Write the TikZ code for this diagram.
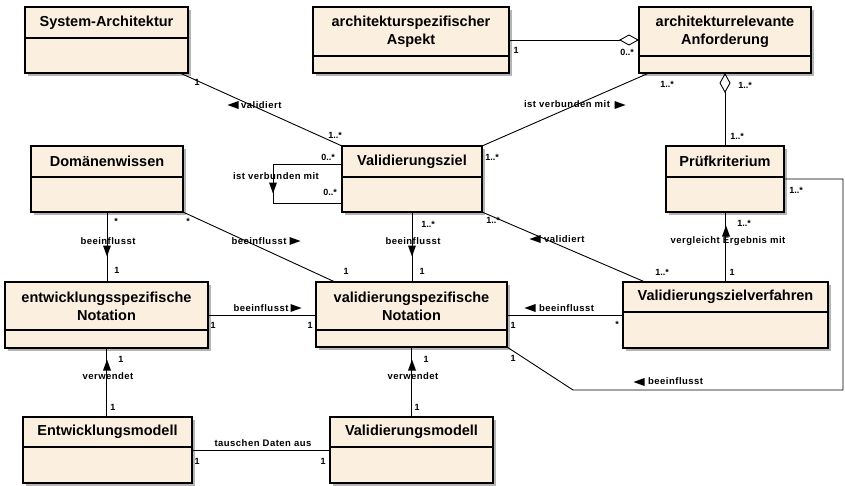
\documentclass[tikz,border=0pt]{standalone}
\usepackage{fontspec}
\setmainfont{Liberation Sans}
\usetikzlibrary{arrows.meta,shadows,calc,fit}

\definecolor{clsfill}{RGB}{251,240,224}
\definecolor{clsshadow}{RGB}{180,180,180}

\tikzset{
  cls/.style={draw=black, line width=1.2pt, fill=clsfill, inner sep=0pt, outer sep=0pt,
    drop shadow={shadow xshift=3pt, shadow yshift=-3pt, fill=clsshadow, opacity=1}},
  ctitle/.style={font=\fontsize{14.5}{18}\selectfont\bfseries, align=center, inner sep=0pt},
  assoc/.style={draw=black, line width=0.9pt},
  mult/.style={font=\fontsize{9}{10}\selectfont\bfseries, inner sep=0pt},
  rolename/.style={font=\fontsize{9.5}{11}\selectfont\bfseries\addfontfeatures{LetterSpace=5}, inner sep=0pt},
  ltri/.pic={\fill (-5.5,0) -- (5.5,-4) -- (5.5,4) -- cycle;},
  rtri/.pic={\fill (5.5,0) -- (-5.5,-4) -- (-5.5,4) -- cycle;},
  utri/.pic={\fill (0,-5.5) -- (-4,5.5) -- (4,5.5) -- cycle;},
  dtri/.pic={\fill (0,5.5) -- (-4,-5.5) -- (4,-5.5) -- cycle;},
  aggtip/.tip={Diamond[open,length=20pt,width=11pt]},
}

% class box: name, x1, y1, x2, y2, divider y, title
\newcommand\umlbox[7]{%
  \node[cls, fit={(#2,#3) (#4,#5)}] (#1) {};
  \draw[line width=1.2pt] (#2,#6) -- (#4,#6);
  \node[ctitle] (#1-title) at ({(#2+#4)/2},{(#3+#6)/2}) {#7};
}

\begin{document}
\begin{tikzpicture}[x=1pt,y=-1pt]
\useasboundingbox (0,0) rectangle (845,485);

% classes
\umlbox{sa}{25}{7}{188}{73}{38}{System-Architektur}
\umlbox{asp}{313}{7}{509}{73}{56}{architekturspezifischer\\Aspekt}
\umlbox{anf}{639}{7}{811}{73}{56}{architekturrelevante\\Anforderung}
\umlbox{dw}{31}{146}{183}{212}{177}{Domänenwissen}
\umlbox{vz}{342}{146}{482}{212}{177}{Validierungsziel}
\umlbox{pk}{666}{146}{784}{212}{177}{Prüfkriterium}
\umlbox{en}{5}{282}{208}{348}{330}{entwicklungsspezifische\\Notation}
\umlbox{vn}{316}{282}{507}{347}{330}{validierungspezifische\\Notation}
\umlbox{vzv}{623}{282}{828}{348}{312}{Validierungszielverfahren}
\umlbox{em}{23}{417}{192}{483}{447}{Entwicklungsmodell}
\umlbox{vm}{330}{417}{493}{483}{447}{Validierungsmodell}

% System-Architektur -- Validierungsziel
\draw[assoc] ($(sa.south east)+(-8,0)$) -- (vz.north west);
\node[mult] at (197,82) {1};
\pic at (233,105) {ltri};
\node[rolename, anchor=west] at (241,105) {validiert};
\node[mult] at (335,135) {1..*};

% architekturspezifischer Aspekt -- architekturrelevante Anforderung
\draw[assoc, -aggtip] (asp.east) -- (anf.west);
\node[mult] at (516,50) {1};
\node[mult] at (627,52) {0..*};

% architekturrelevante Anforderung -- Validierungsziel
\draw[assoc] ($(anf.south west)+(10,0)$) -- (vz.north east);
\node[rolename] at (567,104) {ist verbunden mit};
\pic at (620,105) {rtri};
\node[mult] at (667,84) {1..*};
\node[mult] at (492,157) {1..*};

% architekturrelevante Anforderung -- Prüfkriterium
\draw[assoc, aggtip-] (anf.south) -- (anf.south |- pk.north);
\node[mult] at (745,85) {1..*};
\node[mult] at (737,136) {1..*};

% Validierungsziel self association
\coordinate (loopA) at (273,164);
\coordinate (loopB) at (273,203);
\draw[assoc] (vz.west |- loopA) -- (loopA) -- (loopB) -- (vz.west |- loopB);
\pic at (273,188) {dtri};
\node[rolename] at (276,176) {ist verbunden mit};
\node[mult] at (328,157) {0..*};
\node[mult] at (330,192) {0..*};

% Domänenwissen -- entwicklungsspezifische Notation
\draw[assoc] (dw.south) -- (dw.south |- en.north);
\node[mult] at (116,221) {*};
\node[rolename] at (108,241) {beeinflusst};
\pic at (107,251) {dtri};
\node[mult] at (117,270) {1};

% Domänenwissen -- validierungspezifische Notation
\draw[assoc] (dw.south east) -- ($(vn.north west)+(19,0)$);
\node[mult] at (188,221) {*};
\node[rolename] at (259,241) {beeinflusst};
\pic at (295,241) {rtri};
\node[mult] at (346,271) {1};

% Validierungsziel -- validierungspezifische Notation
\draw[assoc] (vz.south) -- (vz.south |- vn.north);
\node[mult] at (428,224) {1..*};
\node[rolename] at (413,241) {beeinflusst};
\pic at (412,251) {dtri};
\node[mult] at (422,271) {1};

% Validierungsziel -- Validierungszielverfahren
\draw[assoc] (vz.south east) -- ($(vzv.north west)+(22,0)$);
\node[mult] at (493,220) {1..*};
\pic at (535,239) {ltri};
\node[rolename, anchor=west] at (544,239) {validiert};
\node[mult] at (662,272) {1..*};

% Prüfkriterium -- Validierungszielverfahren
\draw[assoc] (pk.south) -- (pk.south |- vzv.north);
\node[mult] at (744,223) {1..*};
\pic at (726,231) {utri};
\node[rolename] at (728,241) {vergleicht Ergebnis mit};
\node[mult] at (732,272) {1};

% entwicklungsspezifische Notation -- validierungspezifische Notation
\draw[assoc] (en.east) -- (en.east -| vn.west);
\node[rolename] at (261,308) {beeinflusst};
\pic at (296,308) {rtri};
\node[mult] at (213,325) {1};
\node[mult] at (310,325) {1};

% Validierungszielverfahren -- validierungspezifische Notation
\draw[assoc] (vzv.west) -- (vzv.west -| vn.east);
\pic at (530,308) {ltri};
\node[rolename, anchor=west] at (539,308) {beeinflusst};
\node[mult] at (513,325) {1};
\node[mult] at (617,324) {*};

% Prüfkriterium -- validierungspezifische Notation
\coordinate (r1) at (843,179);
\coordinate (r2) at (843,390);
\coordinate (r3) at (573,390);
\draw[assoc] (pk.east |- r1) -- (r1) -- (r2) -- (r3) -- (vn.south east);
\node[mult] at (796,190) {1..*};
\node[mult] at (513,358) {1};
\pic at (639,382) {ltri};
\node[rolename, anchor=west] at (648,381) {beeinflusst};

% validierungspezifische Notation -- Validierungsmodell
\draw[assoc] (vn.south) -- (vn.south |- vm.north);
\node[mult] at (426,359) {1};
\pic at (412,365) {utri};
\node[rolename] at (413,376) {verwendet};
\node[mult] at (417,407) {1};

% entwicklungsspezifische Notation -- Entwicklungsmodell
\draw[assoc] (en.south) -- (en.south |- em.north);
\node[mult] at (121,359) {1};
\pic at (107,365) {utri};
\node[rolename] at (108,376) {verwendet};
\node[mult] at (113,407) {1};

% Entwicklungsmodell -- Validierungsmodell
\draw[assoc] (em.east) -- (em.east -| vm.west);
\node[rolename] at (263,443) {tauschen Daten aus};
\node[mult] at (197,461) {1};
\node[mult] at (323,461) {1};

\end{tikzpicture}
\end{document}
